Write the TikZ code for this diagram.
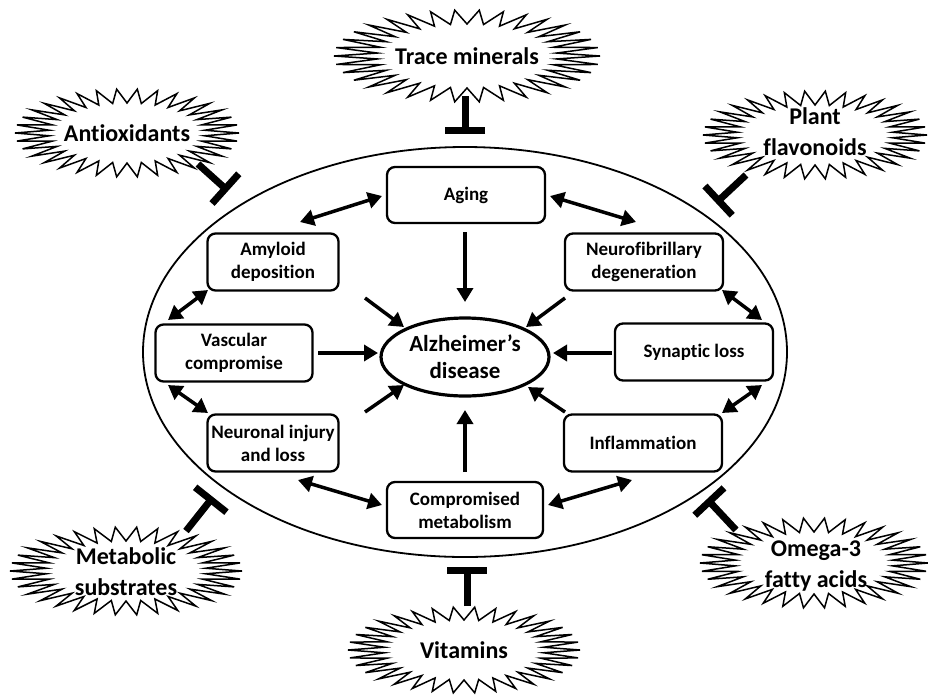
\documentclass[tikz,border=0pt]{standalone}
\usepackage{fontspec}
\setmainfont[Ligatures=NoCommon]{Carlito}
\usetikzlibrary{arrows.meta,shapes.geometric}
\newcommand\burstpath[5]{% name, outer rx, outer ry, inner rx, inner ry
  \draw[burstline] ([shift={(#1)}]0:#2 and #3)
    \foreach \k in {0,...,33}{ -- ([shift={(#1)}]{\k*360/34+180/34}:#4 and #5) -- ([shift={(#1)}]{\k*360/34+360/34}:#2 and #3) } -- cycle;}
\begin{document}
\begin{tikzpicture}[x=1pt,y=-1pt,
  box/.style={draw, line width=2.3pt, rounded corners=8pt, align=center,
    font=\fontsize{19}{23}\selectfont\bfseries, inner sep=1pt},
  burstline/.style={draw, line width=1.5pt, fill=white, line join=miter},
  bursttext/.style={align=center, font=\fontsize{24}{31}\selectfont\bfseries, inner sep=0pt},
  arr/.style={line width=3.5pt, -{Triangle[length=14pt,width=16pt]}},
  darr/.style={line width=3.5pt, {Triangle[length=14pt,width=16pt]}-{Triangle[length=14pt,width=16pt]}},
  tbar/.style={line width=7pt, -{Bar[width=40pt]}}]
\useasboundingbox (0,0) rectangle (928,694);

% big ellipse
\node[draw, line width=1.8pt, ellipse, minimum width=644pt, minimum height=410pt] (big) at (465,352) {};

% central disease
\node[draw, line width=3.2pt, ellipse, minimum width=168pt, minimum height=78pt, align=center,
  font=\fontsize{23}{27}\selectfont\bfseries, inner sep=0pt] (ad) at (465,357) {Alzheimer’s\\disease};

% boxes
\node[box, minimum width=158pt, minimum height=56pt] (aging) at (466,195) {Aging};
\node[box, minimum width=131pt, minimum height=57pt] (amy) at (273,262) {Amyloid\\deposition};
\node[box, minimum width=158pt, minimum height=57pt] (neuro) at (644,262) {Neurofibrillary\\degeneration};
\node[box, minimum width=157pt, minimum height=57pt] (vasc) at (234,353) {Vascular\\compromise};
\node[box, minimum width=158pt, minimum height=57pt] (syn) at (694,352) {Synaptic loss};
\node[box, minimum width=131pt, minimum height=57pt] (inj) at (273,443) {Neuronal injury\\and loss};
\node[box, minimum width=158pt, minimum height=57pt] (infl) at (643,443) {Inflammation};
\node[box, minimum width=156pt, minimum height=56pt] (meta) at (465,510) {Compromised\\metabolism};

% arrows to AD
\coordinate (a1s) at (465,232); \coordinate (a1e) at (465,302);
\coordinate (a2s) at (365,298); \coordinate (a2e) at (404,327);
\coordinate (a3s) at (565,298); \coordinate (a3e) at (526,327);
\coordinate (a4s) at (318,353); \coordinate (a4e) at (378,353);
\coordinate (a5s) at (612,353); \coordinate (a5e) at (553,353);
\coordinate (a6s) at (365,412); \coordinate (a6e) at (404,385);
\coordinate (a7s) at (565,412); \coordinate (a7e) at (528,387);
\coordinate (a8s) at (465,472); \coordinate (a8e) at (465,410);
\foreach \i in {1,...,8}{\draw[arr] (a\i s) -- (a\i e);}

% double arrows
\coordinate (d1s) at (300,222); \coordinate (d1e) at (382,196);
\coordinate (d2s) at (550,196); \coordinate (d2e) at (636,222);
\coordinate (d3s) at (208,290); \coordinate (d3e) at (168,320);
\coordinate (d4s) at (168,385); \coordinate (d4e) at (208,413);
\coordinate (d5s) at (722,290); \coordinate (d5e) at (762,320);
\coordinate (d6s) at (762,385); \coordinate (d6e) at (722,413);
\coordinate (d7s) at (298,480); \coordinate (d7e) at (382,505);
\coordinate (d8s) at (548,505); \coordinate (d8e) at (632,480);
\foreach \i in {1,...,8}{\draw[darr] (d\i s) -- (d\i e);}

% starbursts
\coordinate (bTM) at (467,56);
\coordinate (bAO) at (127,133);
\coordinate (bPF) at (815,135);
\coordinate (bMS) at (126,571);
\coordinate (bOM) at (814,563);
\coordinate (bVI) at (464,650);
\burstpath{bTM}{133}{46}{90}{32}
\burstpath{bAO}{112}{44}{78}{30}
\burstpath{bPF}{112}{44}{78}{30}
\burstpath{bMS}{116}{44}{80}{30}
\burstpath{bOM}{114}{45}{79}{31}
\burstpath{bVI}{116}{43}{80}{30}
\node[bursttext] (tTM) at (bTM) {Trace minerals};
\node[bursttext] (tAO) at (bAO) {Antioxidants};
\node[bursttext] (tPF) at (815,132) {Plant\\flavonoids};
\node[bursttext] (tMS) at (126,572) {Metabolic\\substrates};
\node[bursttext] (tOM) at (816,566) {Omega-3\\fatty acids};
\node[bursttext] (tVI) at (bVI) {Vitamins};

% inhibition bars
\coordinate (t1s) at (465,96);  \coordinate (t1e) at (465,134);
\coordinate (t2s) at (198,164); \coordinate (t2e) at (228,191);
\coordinate (t3s) at (746,175); \coordinate (t3e) at (716,203);
\coordinate (t4s) at (186,531); \coordinate (t4e) at (213,497);
\coordinate (t5s) at (736,530); \coordinate (t5e) at (707,499);
\coordinate (t6s) at (467,606); \coordinate (t6e) at (467,567);
\foreach \i in {1,...,6}{\draw[tbar] (t\i s) -- (t\i e);}
\end{tikzpicture}
\end{document}
